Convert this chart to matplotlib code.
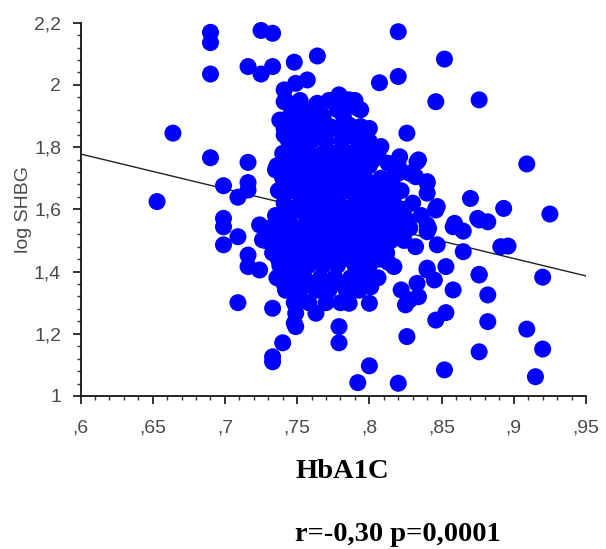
import matplotlib
matplotlib.use("Agg")
import matplotlib.pyplot as plt
from matplotlib.ticker import MultipleLocator

# HbA1C vs log SHBG observations (scattered outer points)
outer_x = [
    0.653, 0.664, 0.690, 0.690, 0.690, 0.690, 0.699, 0.709, 0.699, 0.699,
    0.699, 0.709, 0.716, 0.716, 0.716, 0.716, 0.716, 0.724, 0.724, 0.726,
    0.709, 0.733, 0.740, 0.733, 0.733, 0.748, 0.749, 0.749, 0.763, 0.779,
    0.779, 0.800, 0.792, 0.820, 0.826, 0.852, 0.876, 0.882, 0.882, 0.876,
    0.858, 0.846, 0.853, 0.865, 0.891, 0.896, 0.841, 0.858, 0.865, 0.875,
    0.882, 0.870, 0.847, 0.840, 0.853, 0.845, 0.822, 0.828, 0.834, 0.825,
    0.817, 0.813, 0.832, 0.800, 0.786, 0.801, 0.786, 0.833, 0.846, 0.840,
    0.840, 0.925, 0.920, 0.909, 0.920, 0.915, 0.893, 0.909, 0.876,
    0.725, 0.733, 0.716, 0.725, 0.733, 0.748, 0.764, 0.757, 0.749, 0.741,
    0.820, 0.852, 0.820, 0.807, 0.846, 0.876, 0.826, 0.779, 0.786, 0.780,
    0.787, 0.792, 0.794, 0.763, 0.764, 0.764, 0.741, 0.749, 0.738, 0.749,
    0.757, 0.771, 0.773, 0.787, 0.786, 0.794, 0.800, 0.808, 0.741, 0.749,
    0.735, 0.743, 0.756, 0.813, 0.821, 0.834, 0.833, 0.828, 0.820, 0.832,
    0.840, 0.840, 0.840, 0.847, 0.846, 0.876, 0.859, 0.840, 0.826, 0.794,
    0.801, 0.801, 0.808, 0.816, 0.819,
]
outer_y = [
    1.625, 1.845, 2.169, 2.136, 2.035, 1.766, 1.676, 1.639, 1.571, 1.544,
    1.486, 1.512, 1.751, 1.686, 1.662, 1.453, 1.416, 1.405, 1.550, 1.502,
    1.300, 1.282, 1.171, 1.126, 1.110, 1.234, 1.266, 1.223, 1.266, 1.223,
    1.171, 1.097, 1.043, 1.041, 1.191, 1.084, 1.142, 1.239, 1.325, 1.391,
    1.341, 1.244, 1.268, 1.464, 1.480, 1.482, 1.539, 1.544, 1.530, 1.571,
    1.560, 1.635, 1.486, 1.411, 1.416, 1.373, 1.341, 1.309, 1.319, 1.293,
    1.416, 1.430, 1.480, 1.298, 1.298, 1.351, 1.351, 1.362, 1.598, 1.528,
    1.405, 1.585, 1.382, 1.215, 1.151, 1.062, 1.603, 1.746, 1.389,
    2.175, 2.166, 2.059, 2.035, 2.059, 2.073, 2.093, 2.016, 2.005, 1.984,
    2.171, 2.083, 2.027, 2.007, 1.946, 1.952, 1.845, 1.968, 1.952, 1.962,
    1.941, 1.925, 1.920, 1.936, 1.941, 1.904, 1.946, 1.930, 1.887, 1.893,
    1.866, 1.866, 1.866, 1.866, 1.871, 1.866, 1.818, 1.802, 1.839, 1.796,
    1.727, 1.759, 1.823, 1.748, 1.769, 1.759, 1.753, 1.716, 1.716, 1.705,
    1.689, 1.684, 1.652, 1.609, 1.603, 1.566, 1.555, 1.550, 1.566, 1.716,
    1.673, 1.630, 1.630, 1.620, 1.590,
]

# Dense central group, listed row by row (log SHBG level -> HbA1C values)
core_rows = {
    1.95: [0.742, 0.752, 0.772, 0.790],
    1.92: [0.747, 0.760, 0.778],
    1.90: [0.745, 0.755, 0.768, 0.782],
    1.86: [0.741, 0.750, 0.762, 0.776, 0.800],
    1.84: [0.746, 0.757, 0.766, 0.786, 0.795],
    1.82: [0.744, 0.753, 0.760, 0.770, 0.781, 0.792],
    1.78: [0.740, 0.749, 0.758, 0.768, 0.776, 0.786, 0.796, 0.806],
    1.76: [0.745, 0.754, 0.764, 0.773, 0.782, 0.792, 0.803],
    1.74: [0.736, 0.745, 0.754, 0.763, 0.772, 0.781, 0.790, 0.800, 0.820],
    1.70: [0.740, 0.750, 0.760, 0.769, 0.778, 0.788, 0.797, 0.808, 0.816],
    1.68: [0.744, 0.755, 0.765, 0.774, 0.783, 0.792, 0.803, 0.813],
    1.66: [0.737, 0.746, 0.756, 0.766, 0.775, 0.784, 0.793, 0.803, 0.812, 0.822],
    1.62: [0.741, 0.752, 0.761, 0.770, 0.779, 0.790, 0.799, 0.808, 0.817, 0.830],
    1.60: [0.746, 0.757, 0.766, 0.775, 0.785, 0.794, 0.804, 0.813, 0.824],
    1.58: [0.735, 0.745, 0.756, 0.766, 0.776, 0.785, 0.795, 0.804, 0.813, 0.822, 0.836],
    1.54: [0.731, 0.740, 0.750, 0.760, 0.770, 0.780, 0.790, 0.800, 0.810, 0.818, 0.828],
    1.52: [0.735, 0.745, 0.755, 0.765, 0.775, 0.785, 0.795, 0.805, 0.814],
    1.50: [0.728, 0.737, 0.746, 0.756, 0.766, 0.776, 0.786, 0.796, 0.806, 0.815, 0.824],
    1.46: [0.733, 0.742, 0.752, 0.762, 0.772, 0.782, 0.792, 0.802, 0.812],
    1.44: [0.737, 0.747, 0.757, 0.767, 0.777, 0.787, 0.797, 0.807],
    1.42: [0.738, 0.748, 0.758, 0.768, 0.778, 0.790, 0.800],
    1.38: [0.736, 0.745, 0.755, 0.766, 0.776, 0.787, 0.797, 0.806],
    1.36: [0.741, 0.750, 0.760, 0.770, 0.781, 0.791],
    1.34: [0.742, 0.752, 0.763, 0.772, 0.784, 0.793],
    1.30: [0.748, 0.758, 0.770, 0.780],
}

# Fitted regression line end points
fit_x = [0.60, 0.95]
fit_y = [1.778, 1.386]

x_ticks = [0.60, 0.65, 0.70, 0.75, 0.80, 0.85, 0.90, 0.95]
x_tick_labels = [",6", ",65", ",7", ",75", ",8", ",85", ",9", ",95"]
y_ticks = [1.0, 1.2, 1.4, 1.6, 1.8, 2.0, 2.2]
y_tick_labels = ["1", "1,2", "1,4", "1,6", "1,8", "2", "2,2"]

x_label = "HbA1C"
y_label = "log SHBG"
stats_text = "r=-0,30 p=0,0001"

xs = list(outer_x)
ys = list(outer_y)
for yv, row in core_rows.items():
    xs.extend(row)
    ys.extend([yv] * len(row))

W, H = 606, 549
fig = plt.figure(figsize=(W / 100, H / 100), dpi=100)
ax = fig.add_axes([80.5 / W, 1 - 396 / H, (586 - 80.5) / W, (396 - 22.7) / H])

ax.plot(fit_x, fit_y, color="#222222", lw=1.0, zorder=1)
ax.scatter(xs, ys, s=150, color="#0000FF", edgecolors="none", zorder=2, clip_on=False)

ax.set_xlim(0.60, 0.95)
ax.set_ylim(1.0, 2.2)
for side in ("top", "right"):
    ax.spines[side].set_visible(False)
for side in ("left", "bottom"):
    ax.spines[side].set_linewidth(1.3)
    ax.spines[side].set_color("#111111")

ax.set_xticks(x_ticks)
ax.set_xticklabels(x_tick_labels)
ax.set_yticks(y_ticks)
ax.set_yticklabels(y_tick_labels)
ax.xaxis.set_minor_locator(MultipleLocator(0.01))
ax.yaxis.set_minor_locator(MultipleLocator(0.04))

for lab in ax.get_xticklabels() + ax.get_yticklabels():
    lab.set_fontfamily("Liberation Sans")
ax.tick_params(axis="both", which="major", direction="out", length=6, width=1.2,
               color="#111111", labelsize=14, labelcolor="#4a4a4a")
ax.tick_params(axis="both", which="minor", direction="out", length=3, width=1.0,
               color="#333333")
ax.tick_params(axis="x", which="major", pad=11)
ax.tick_params(axis="y", which="major", pad=8)

fig.text(24 / W, 1 - 209 / H, y_label, rotation=90, ha="center", va="center",
         fontsize=14, color="#4a4a4a", family="Liberation Sans")
fig.text(295 / W, 1 - 478 / H, x_label, ha="left", va="baseline",
         fontsize=20.5, fontweight="bold", family="Liberation Serif", color="black")
fig.text(295 / W, 1 - 541 / H, stats_text, ha="left", va="baseline",
         fontsize=20.5, fontweight="bold", family="Liberation Serif", color="black")

fig.savefig("out.png", dpi=100, facecolor="white")
